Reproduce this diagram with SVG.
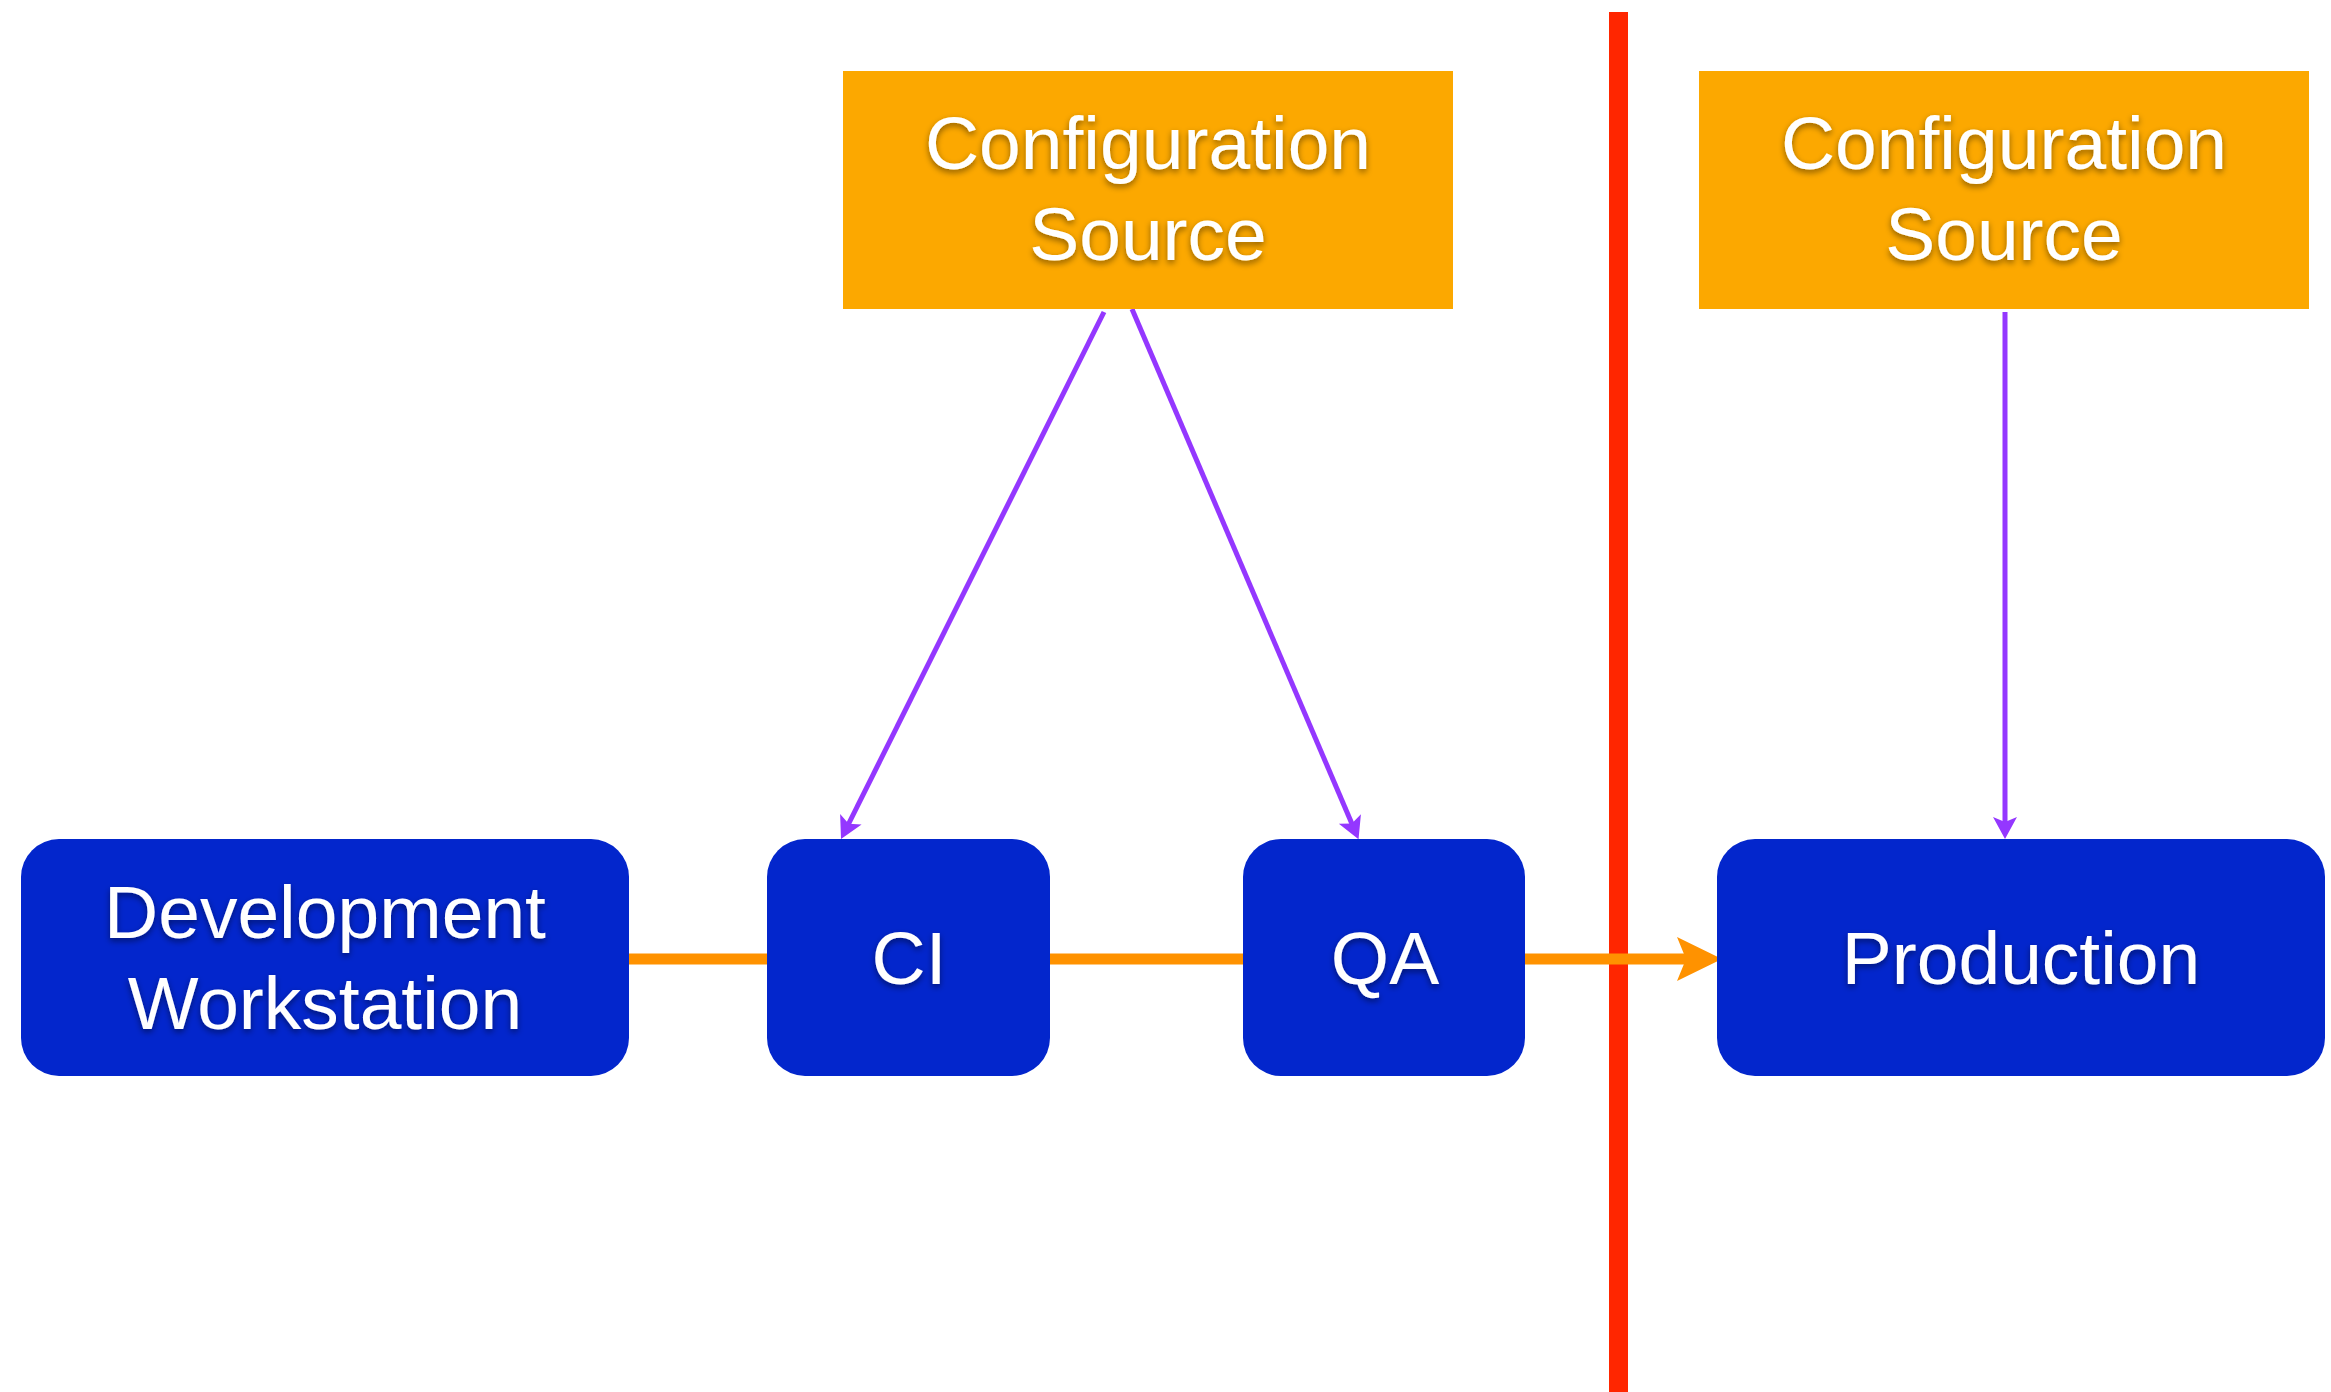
<svg xmlns="http://www.w3.org/2000/svg" width="2331" height="1392" viewBox="0 0 2331 1392">
<style>
.env{fill:#0326CC;}
.cfg{fill:#FCA800;}
.lbl{font-family:"Liberation Sans",Arial,sans-serif;font-size:75px;fill:#FFFFFF;text-anchor:middle;filter:url(#sh);}
.cfgline{stroke:#9437FF;stroke-width:5;fill:none;}
.flow{stroke:#FF9200;stroke-width:11;fill:none;}
</style>
<defs>
<filter id="sh" x="-10%" y="-20%" width="120%" height="150%">
<feDropShadow dx="0" dy="3" stdDeviation="3" flood-color="#000000" flood-opacity="0.45"/>
</filter>
<marker id="pa" viewBox="-15 -15 30 30" refX="0" refY="0" markerWidth="30" markerHeight="30" markerUnits="userSpaceOnUse" orient="auto">
<path d="M10,0 L-12,-12 L-7,0 L-12,12 Z" fill="#9437FF"/>
</marker>
<marker id="oa" viewBox="-40 -25 60 50" refX="0" refY="0" markerWidth="60" markerHeight="50" markerUnits="userSpaceOnUse" orient="auto">
<path d="M12,0 L-33,-22 L-24,0 L-33,22 Z" fill="#FF9200"/>
</marker>
</defs>
<rect width="2331" height="1392" fill="#FFFFFF"/>
<g id="boundary">
<rect x="1609" y="12" width="19" height="1380" fill="#FF2600"/>
</g>
<g id="connectors">
<line class="flow" x1="629" y1="959" x2="1710" y2="959" marker-end="url(#oa)"/>
<line class="cfgline" x1="1104" y1="312" x2="845.5" y2="830" marker-end="url(#pa)"/>
<line class="cfgline" x1="1132" y1="309" x2="1354.6" y2="830" marker-end="url(#pa)"/>
<line class="cfgline" x1="2005" y1="312" x2="2005" y2="829" marker-end="url(#pa)"/>
</g>
<g id="config-source-1">
<rect class="cfg" x="843" y="71" width="610" height="238"/>
<text class="lbl" x="1148" y="169">Configuration</text>
<text class="lbl" x="1148" y="260">Source</text>
</g>
<g id="config-source-2">
<rect class="cfg" x="1699" y="71" width="610" height="238"/>
<text class="lbl" x="2004" y="169">Configuration</text>
<text class="lbl" x="2004" y="260">Source</text>
</g>
<g id="dev-workstation">
<rect class="env" x="21" y="839" width="608" height="237" rx="38" ry="38"/>
<text class="lbl" x="325" y="938">Development</text>
<text class="lbl" x="325" y="1029">Workstation</text>
</g>
<g id="ci">
<rect class="env" x="767" y="839" width="283" height="237" rx="38" ry="38"/>
<text class="lbl" x="909" y="984">CI</text>
</g>
<g id="qa">
<rect class="env" x="1243" y="839" width="282" height="237" rx="38" ry="38"/>
<text class="lbl" x="1385" y="984">QA</text>
</g>
<g id="production">
<rect class="env" x="1717" y="839" width="608" height="237" rx="38" ry="38"/>
<text class="lbl" x="2021" y="984">Production</text>
</g>
</svg>
